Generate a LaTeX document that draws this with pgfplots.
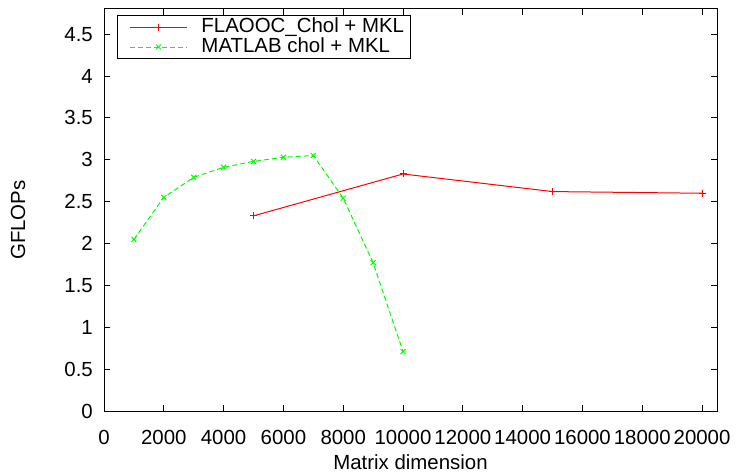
\documentclass[border=0pt]{standalone}
\usepackage{pgfplots}
\pgfplotsset{compat=1.18}
\usepackage{fontspec}
\setmainfont{Liberation Sans}
\definecolor{gpred}{RGB}{255,0,0}
\definecolor{gpgreen}{RGB}{0,255,0}
\newcommand{\gpfont}{\fontsize{20.5}{24}\selectfont}
\begin{document}
\begin{tikzpicture}[font=\gpfont]
\path[use as bounding box] (0,0) rectangle (737bp,474bp);
\begin{axis}[
  at={(104bp,63bp)}, anchor=south west,
  scale only axis, width=613bp, height=402bp,
  font=\gpfont,
  xmin=0, xmax=20500, ymin=0, ymax=4.8,
  xtick={0,2000,4000,6000,8000,10000,12000,14000,16000,18000,20000},
  ytick={0,0.5,1,1.5,2,2.5,3,3.5,4,4.5},
  scaled x ticks=false,
  /pgf/number format/assume math mode=true,
  every tick label/.append style={font=\gpfont},
  xticklabel style={/pgf/number format/1000 sep={}, anchor=base, inner sep=0pt, yshift=-33bp},
  yticklabel style={anchor=east, inner sep=0pt, xshift=-11bp},
  tick align=inside, major tick length=6bp,
  tick style={black, line width=0.8bp},
  axis line style={black, line width=1bp},
  xlabel={Matrix dimension}, ylabel={GFLOPs},
  label style={font=\gpfont},
  xlabel style={at={(axis description cs:0.5,0)}, anchor=base, inner sep=0pt, yshift=-58bp},
  ylabel style={at={(axis description cs:-0.140,0.475)}, anchor=center, inner sep=0pt},
  legend cell align=left,
  legend style={at={(axis description cs:0.0212,0.985)}, anchor=north west,
    inner xsep=6bp, inner ysep=2bp, row sep=1bp, column sep=14bp, line width=1bp,
    nodes={inner sep=0pt, text height=14.5bp, text depth=4.5bp},
    font=\gpfont},
  legend image code/.code={\path (0bp,0bp); \draw[mark repeat=2,mark phase=2,#1] plot coordinates {(6bp,0bp) (34.5bp,0bp) (63bp,0bp)};},
]
\addplot[gpred, line width=1bp, mark=+, mark size=3.5bp, mark options={solid}] coordinates {
 (5000,2.33) (10000,2.83) (15000,2.62) (20000,2.60)};
\addlegendentry{FLAOOC\_Chol + MKL}
\addplot[gpgreen, line width=1bp, dash pattern=on 5bp off 3bp, mark=x, mark size=3.5bp, mark options={solid}] coordinates {
 (1000,2.05) (2000,2.55) (3000,2.79) (4000,2.91) (5000,2.98) (6000,3.03) (7000,3.05) (8000,2.54) (9000,1.77) (10000,0.71)};
\addlegendentry{MATLAB chol + MKL}
\end{axis}
\end{tikzpicture}
\end{document}
